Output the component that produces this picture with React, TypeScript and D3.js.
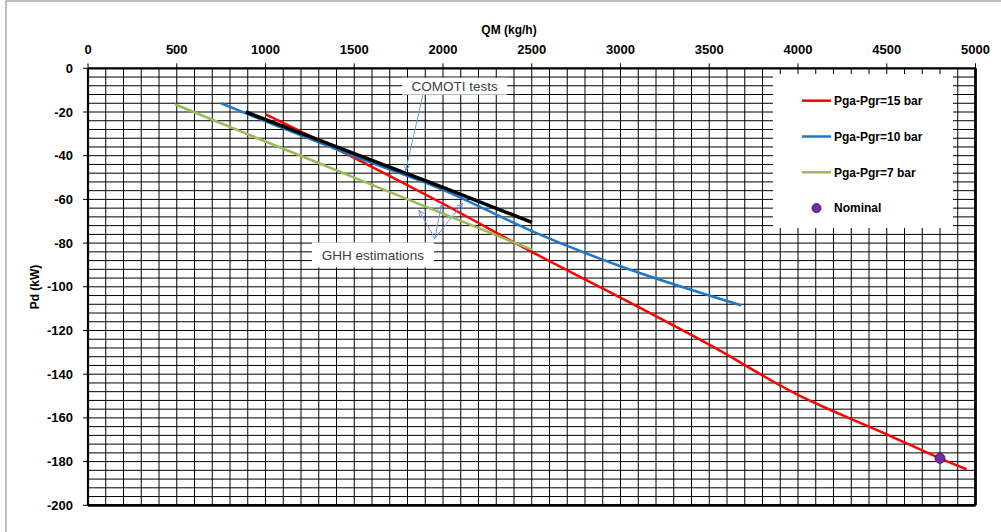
import React from 'react';
import * as d3 from 'd3';

// ---- values ----
const qmTicks = [0, 500, 1000, 1500, 2000, 2500, 3000, 3500, 4000, 4500, 5000];
const pdTicks = [0, -20, -40, -60, -80, -100, -120, -140, -160, -180, -200];
const QM_GRID_STEP = 100;
const PD_GRID_STEP = 4;

// [QM kg/h, Pd kW]
const pga15 = [
  [1000, -21], [1500, -41], [2000, -62], [2500, -84], [3000, -105],
  [3500, -126.5], [4000, -149.5], [4500, -167.5], [4800, -178.5], [4950, -183.5],
];
const pga10 = [
  [750, -16], [1000, -24.3], [1500, -40.3], [2000, -55.6], [2500, -74.5],
  [3000, -90.6], [3500, -104], [3680, -108.5],
];
const pga7 = [[490, -16.5], [1000, -33.5], [1500, -50], [2000, -66.5], [2500, -83]];
const comotiTests = [[890, -20], [1500, -39], [2000, -54.5], [2500, -70.5]];
const nominal = [[4800, -178.5]];

const series = [
  { name: 'Pga-Pgr=15 bar', data: pga15, color: '#FF0000', width: 2.5, legend: true },
  { name: 'Pga-Pgr=10 bar', data: pga10, color: '#1F78C6', width: 2.5, legend: true },
  { name: 'Pga-Pgr=7 bar', data: pga7, color: '#9BBB59', width: 2.5, legend: true },
  { name: 'COMOTI tests', data: comotiTests, color: '#000000', width: 3.5, legend: false },
];

// annotation anchors in data units
const comotiLabel = { text: 'COMOTI tests', at: [2066, -8.2], from: [1886, -12.4], to: [[1790, -46.7]] };
const ghhLabel = {
  text: 'GHH estimations', at: [1605, -85.4], from: [1954, -77.9],
  to: [[1865, -65], [1991, -62.7], [2110, -61.9]],
};

const W = 1001;
const H = 532;
const FONT = '"Liberation Sans", Arial, sans-serif';

export default function App() {
  const x = d3.scaleLinear().domain([0, 5000]).range([88, 975.5]);
  const y = d3.scaleLinear().domain([0, -200]).range([68.3, 505.3]);

  const line = d3.line<number[]>()
    .x(d => x(d[0]))
    .y(d => y(d[1]))
    .curve(d3.curveMonotoneX);

  const xGrid = d3.range(0, 5000 + 1, QM_GRID_STEP);
  const yGrid = d3.range(0, -200 - 1, -PD_GRID_STEP);

  const legendRows = series.filter(s => s.legend);
  const arrowColor = '#6A9AD6';

  const annot = (a: typeof ghhLabel, w: number, h: number) => (
    <g>
      <rect x={x(a.at[0]) - w / 2} y={y(a.at[1]) - h / 2} width={w} height={h} fill="#fff" />
      <text x={x(a.at[0])} y={y(a.at[1])} dy="0.35em" textAnchor="middle"
        fontFamily={FONT} fontSize={13.5} fill="#404040">{a.text}</text>
      {a.to.map((t, i) => (
        <line key={i} x1={x(a.from[0])} y1={y(a.from[1])} x2={x(t[0])} y2={y(t[1])}
          stroke={arrowColor} strokeWidth={1} markerEnd="url(#arr)" />
      ))}
    </g>
  );

  return (
    <svg width={W} height={H} style={{ position: 'absolute', left: 0, top: 0, background: '#fff' }}>
      <defs>
        <marker id="arr" viewBox="0 0 10 10" refX="9" refY="5" markerWidth="7" markerHeight="7" orient="auto">
          <path d="M1,1 L9,5 L1,9" fill="none" stroke={arrowColor} strokeWidth={1.4} />
        </marker>
      </defs>
      <rect x={6} y={1} width={1100} height={600} fill="#fff" stroke="#7F7F7F" strokeWidth={1} />

      {/* grid */}
      <g stroke="#000" strokeWidth={1}>
        {xGrid.map(v => <line key={'gx' + v} x1={x(v)} x2={x(v)} y1={y(0)} y2={y(-200)} />)}
        {yGrid.map(v => <line key={'gy' + v} x1={x(0)} x2={x(5000)} y1={y(v)} y2={y(v)} />)}
      </g>

      {/* frame */}
      <g stroke="#000" fill="none">
        <line x1={x(0)} x2={x(5000)} y1={y(0)} y2={y(0)} strokeWidth={2.2} />
        <line x1={x(0)} x2={x(0)} y1={y(0)} y2={y(-200)} strokeWidth={2.2} />
        <line x1={x(0)} x2={x(5000)} y1={y(-200)} y2={y(-200)} strokeWidth={2.8} />
        <line x1={x(5000)} x2={x(5000)} y1={y(0)} y2={y(-200)} strokeWidth={2.8} />
      </g>

      {/* ticks + labels */}
      <g fontFamily={FONT} fontSize={13} fontWeight="bold" fill="#000">
        {qmTicks.map(v => (
          <g key={'tx' + v}>
            <line x1={x(v)} x2={x(v)} y1={y(0)} y2={y(0) - 5} stroke="#000" />
            <text x={x(v)} y={53.5} textAnchor="middle">{v}</text>
          </g>
        ))}
        {pdTicks.map(v => (
          <g key={'ty' + v}>
            <line x1={x(0) - 5} x2={x(0)} y1={y(v)} y2={y(v)} stroke="#000" />
            <text x={73} y={y(v)} dy="0.35em" textAnchor="end">{v}</text>
          </g>
        ))}
      </g>

      {/* axis titles */}
      <text x={509} y={30} dy="0.35em" textAnchor="middle" fontFamily={FONT} fontSize={12} fontWeight="bold">QM (kg/h)</text>
      <text transform="translate(35,287) rotate(-90)" dy="0.35em" textAnchor="middle"
        fontFamily={FONT} fontSize={12} fontWeight="bold">Pd (kW)</text>

      {/* series */}
      {series.map(s => (
        <path key={s.name} d={line(s.data) || ''} fill="none" stroke={s.color}
          strokeWidth={s.width} strokeLinecap="butt" />
      ))}

      {/* legend */}
      <g fontFamily={FONT} fontSize={12} fontWeight="bold">
        <rect x={773} y={74} width={180} height={154} fill="#fff" />
        {legendRows.map((s, i) => (
          <g key={s.name} transform={`translate(802,${100.7 + i * 35.8})`}>
            <line x1={0} x2={29} y1={0} y2={0} stroke={s.color} strokeWidth={2.5} />
            <text x={32} y={0} dy="0.35em">{s.name}</text>
          </g>
        ))}
        <g transform={`translate(802,${100.7 + 3 * 35.8})`}>
          <circle cx={14.5} cy={0} r={4.5} fill="#7030A0" stroke="#3F1F5F" strokeWidth={1} />
          <text x={32} y={0} dy="0.35em">Nominal</text>
        </g>
      </g>

      {/* annotations */}
      {annot(comotiLabel, 105, 17)}
      {annot(ghhLabel, 122, 25)}

      {/* nominal point */}
      {nominal.map((d, i) => (
        <circle key={i} cx={x(d[0])} cy={y(d[1])} r={5} fill="#7030A0" stroke="#3F1F5F" strokeWidth={1} />
      ))}
    </svg>
  );
}
